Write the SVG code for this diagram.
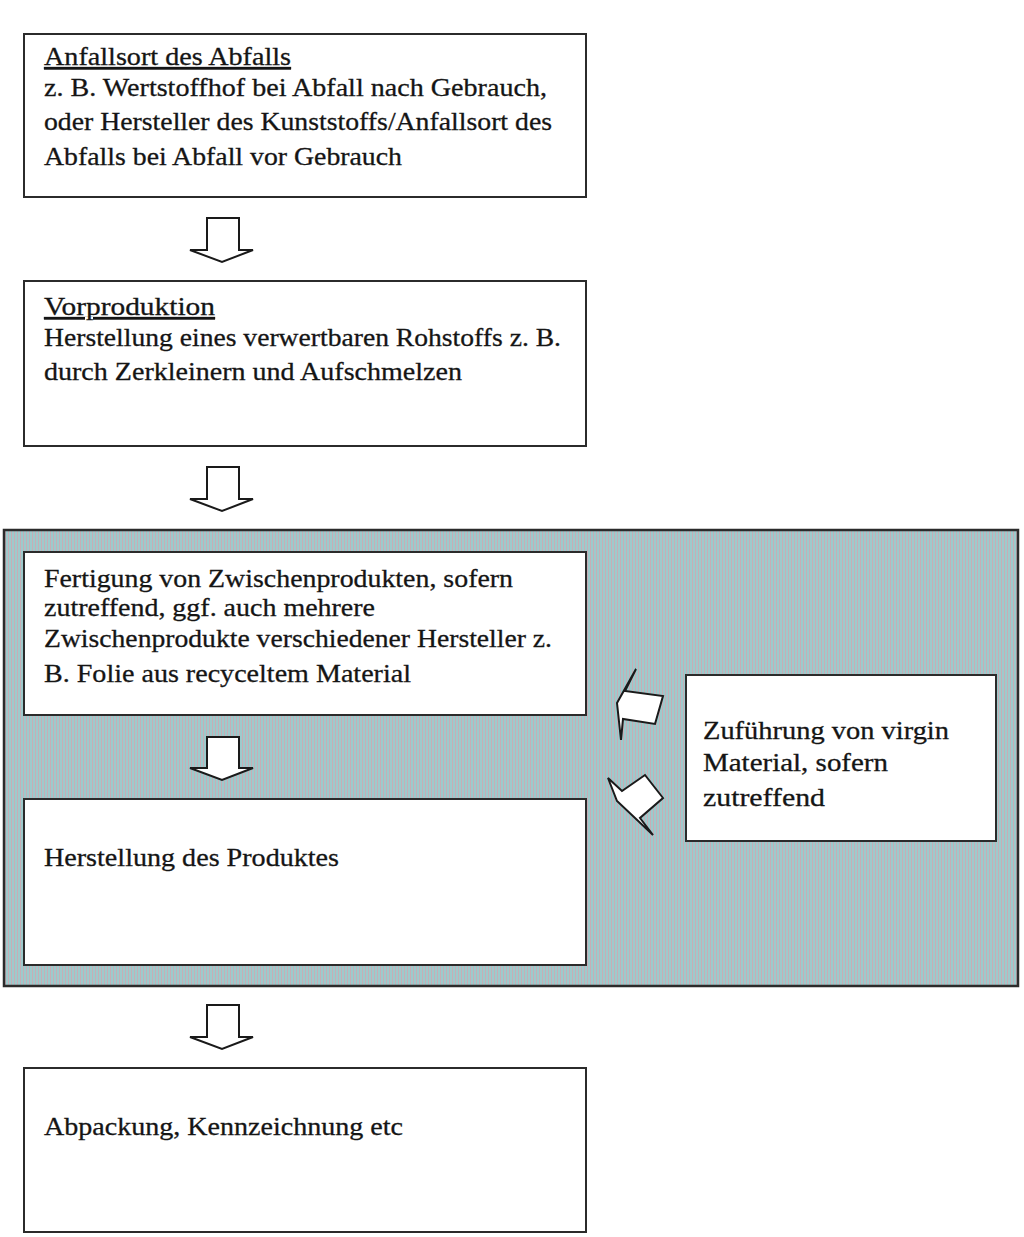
<svg xmlns="http://www.w3.org/2000/svg" width="1024" height="1237" viewBox="0 0 1024 1237">
<defs>
<pattern id="stripes" width="3" height="4" patternUnits="userSpaceOnUse">
<rect x="0" y="0" width="2" height="4" fill="#9ecacc"/>
<rect x="2" y="0" width="1" height="4" fill="#c6aeb6"/>
</pattern>
<style>
.box{fill:#ffffff;stroke:#2b2b2b;stroke-width:2}
.frame{fill:url(#stripes);stroke:#2b2b2b;stroke-width:2.5}
.t{font-family:"Liberation Serif","Times New Roman",serif;font-size:26px;fill:#151515;stroke:#151515;stroke-width:0.3}
.u{text-decoration:underline}
.arr{fill:#ffffff;stroke:#1a1a1a;stroke-width:2;stroke-linejoin:miter}
</style>
</defs>
<rect x="0" y="0" width="1024" height="1237" fill="#ffffff"/>
<g id="region">
<rect class="frame" x="4" y="530" width="1014" height="456"/>
</g>
<g id="n1">
<rect class="box" x="24" y="34" width="562" height="163"/>
<text class="t u" x="44" y="65" textLength="247" lengthAdjust="spacingAndGlyphs">Anfallsort des Abfalls</text>
<text class="t" x="44" y="96" textLength="503" lengthAdjust="spacingAndGlyphs">z. B. Wertstoffhof bei Abfall nach Gebrauch,</text>
<text class="t" x="44" y="130" textLength="508" lengthAdjust="spacingAndGlyphs">oder Hersteller des Kunststoffs/Anfallsort des</text>
<text class="t" x="44" y="165" textLength="358" lengthAdjust="spacingAndGlyphs">Abfalls bei Abfall vor Gebrauch</text>
</g>
<g id="n2">
<rect class="box" x="24" y="281" width="562" height="165"/>
<text class="t u" x="44" y="315" textLength="171" lengthAdjust="spacingAndGlyphs">Vorproduktion</text>
<text class="t" x="44" y="346" textLength="517" lengthAdjust="spacingAndGlyphs">Herstellung eines verwertbaren Rohstoffs z. B.</text>
<text class="t" x="44" y="380" textLength="418" lengthAdjust="spacingAndGlyphs">durch Zerkleinern und Aufschmelzen</text>
</g>
<g id="n3">
<rect class="box" x="24" y="552" width="562" height="163"/>
<text class="t" x="44" y="587" textLength="469" lengthAdjust="spacingAndGlyphs">Fertigung von Zwischenprodukten, sofern</text>
<text class="t" x="44" y="616" textLength="331" lengthAdjust="spacingAndGlyphs">zutreffend, ggf. auch mehrere</text>
<text class="t" x="44" y="647" textLength="508" lengthAdjust="spacingAndGlyphs">Zwischenprodukte verschiedener Hersteller z.</text>
<text class="t" x="44" y="682" textLength="367" lengthAdjust="spacingAndGlyphs">B. Folie aus recyceltem Material</text>
</g>
<g id="n4">
<rect class="box" x="24" y="799" width="562" height="166"/>
<text class="t" x="44" y="866" textLength="295" lengthAdjust="spacingAndGlyphs">Herstellung des Produktes</text>
</g>
<g id="n5">
<rect class="box" x="686" y="675" width="310" height="166"/>
<text class="t" x="703" y="739" textLength="246" lengthAdjust="spacingAndGlyphs">Zuführung von virgin</text>
<text class="t" x="703" y="771" textLength="185" lengthAdjust="spacingAndGlyphs">Material, sofern</text>
<text class="t" x="703" y="806" textLength="122" lengthAdjust="spacingAndGlyphs">zutreffend</text>
</g>
<g id="n6">
<rect class="box" x="24" y="1068" width="562" height="164"/>
<text class="t" x="44" y="1135" textLength="359" lengthAdjust="spacingAndGlyphs">Abpackung, Kennzeichnung etc</text>
</g>
<g id="connectors">
<polygon class="arr" points="207,218 239,218 239,250 253,250 222,262 190,250 207,250"/>
<polygon class="arr" points="207,467 239,467 239,499 253,499 222,511 190,499 207,499"/>
<polygon class="arr" points="207,737 239,737 239,768 253,768 222,780 190,768 207,768"/>
<polygon class="arr" points="207,1005 239,1005 239,1037 253,1037 222,1049 190,1037 207,1037"/>
<polygon class="arr" points="636,669 625,691 663,696 655,724 623,719 621,740 617,703"/>
<polygon class="arr" points="608,778 622,791 645,775 663,798 640,818 653,835 617,801"/>
</g>
</svg>
